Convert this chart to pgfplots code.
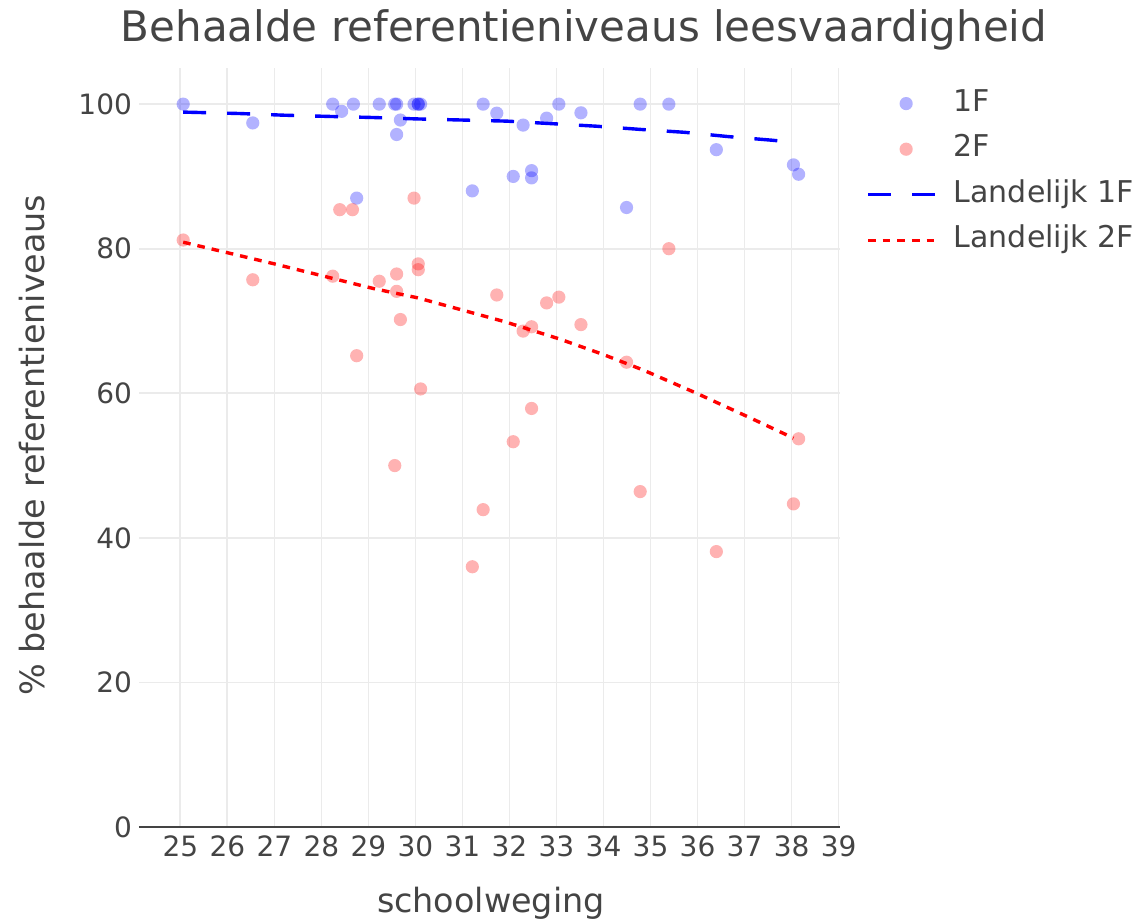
\documentclass[border=0pt]{standalone}
\usepackage{pgfplots}
\pgfplotsset{compat=1.18}
\usepackage{fontspec}
\setmainfont{DejaVu Sans}
\definecolor{txt}{HTML}{444444}
\definecolor{gridc}{HTML}{EBEBEB}
\pgfplotsset{
  marklegend/.style={legend image code/.code={\draw[mark repeat=2, mark phase=2, ##1] plot coordinates {(0pt,0pt) (19pt,0pt) (34pt,0pt)};}},
  linelegend/.style={legend image code/.code={\draw[##1] (0pt,0pt) -- (34pt,0pt);}},
}
\begin{document}
\begin{tikzpicture}
\path[use as bounding box] (-69.5pt,-47pt) rectangle (504.5pt,413.5pt);
\begin{axis}[
  at={(0,0)}, anchor=south west,
  scale only axis, width=350.5pt, height=379.5pt,
  xmin=24.12, xmax=39.03, ymin=0, ymax=105,
  axis line style={draw=none},
  major tick length=0pt,
  xtick={25,...,39}, ytick={20,40,...,100},
  extra y ticks={0},
  extra y tick style={major grid style={draw=txt, line width=1pt}},
  grid=major,
  major grid style={draw=gridc, line width=0.9pt},
  /pgf/number format/assume math mode=true,
  tick label style={font=\fontsize{14}{16}\selectfont, text=txt},
  xticklabel style={anchor=base, yshift=-15pt},
  yticklabel style={anchor=east, xshift=0pt},
  title={Behaalde referentieniveaus leesvaardigheid},
  title style={at={(axis description cs:0.6348,1.0196)}, anchor=base, font=\fontsize{21}{24}\selectfont, text=txt},
  xlabel={schoolweging},
  xlabel style={at={(axis description cs:0.502,-0.1133)}, anchor=base, font=\fontsize{16.7}{19}\selectfont, text=txt},
  ylabel={\% behaalde referentieniveaus},
  ylabel style={at={(axis description cs:-0.1341,0.503)}, anchor=base, font=\fontsize{16.7}{19}\selectfont, text=txt},
  legend style={at={(axis description cs:1.0286,0.978)}, anchor=north west, draw=none, fill=none,
    font=\fontsize{15}{18}\selectfont, text=txt,
    nodes={inner ysep=0pt, inner xsep=8pt, text height=11pt, text depth=3.5pt},
    row sep=8.3pt},
  legend cell align=left,
]
\addplot[only marks, mark=*, mark size=3.3pt, mark options={fill=blue, draw opacity=0, fill opacity=0.3}, marklegend]
coordinates {
(25.06,100) (26.54,97.4) (28.24,100) (28.43,99.0) (28.68,100) (28.75,87.0)
(29.23,100) (29.56,100) (29.6,100) (29.6,95.8) (29.68,97.8) (29.97,100)
(30.06,100) (30.06,100) (30.11,100) (31.21,88.0) (31.44,100) (31.73,98.75)
(32.08,90.0) (32.29,97.1) (32.47,90.8) (32.47,89.8) (32.79,98.06) (33.05,100)
(33.52,98.8) (34.49,85.7) (34.78,100) (35.39,100) (36.4,93.7) (38.04,91.6) (38.15,90.3)
};
\addlegendentry{1F}
\addplot[only marks, mark=*, mark size=3.3pt, mark options={fill=red, draw opacity=0, fill opacity=0.3}, marklegend]
coordinates {
(25.06,81.2) (26.54,75.7) (28.24,76.2) (28.39,85.4) (28.66,85.4) (28.75,65.2)
(29.23,75.5) (29.56,50.0) (29.6,76.5) (29.6,74.1) (29.68,70.2) (29.97,87.0)
(30.06,77.9) (30.06,77.1) (30.11,60.6) (31.21,36.0) (31.44,43.9) (31.73,73.6)
(32.08,53.3) (32.29,68.6) (32.47,69.2) (32.47,57.9) (32.79,72.5) (33.05,73.3)
(33.52,69.5) (34.49,64.3) (34.78,46.4) (35.39,80.0) (36.4,38.1) (38.04,44.7) (38.15,53.7)
};
\addlegendentry{2F}
\addplot[blue, line width=1.7pt, dash pattern=on 11.5pt off 10.5pt, no marks, linelegend]
coordinates {
(25.06,98.9) (26.27,98.7) (27.2,98.47) (28.16,98.3) (29.1,98.15) (30.0,97.96)
(31.0,97.8) (31.94,97.65) (32.9,97.3) (33.84,96.95) (34.79,96.5) (35.73,96.1)
(36.67,95.5) (37.6,95.0) (38.04,94.7)
};
\addlegendentry{Landelijk 1F}
\addplot[red, line width=1.7pt, dash pattern=on 3.8pt off 3.5pt, no marks, linelegend]
coordinates {
(25.06,80.9) (27.0,77.9) (29.1,74.5) (30.05,73.2) (31.9,69.9) (33.07,67.5)
(33.98,65.4) (34.85,63.2) (35.98,60.0) (37.12,56.6) (38.04,53.8)
};
\addlegendentry{Landelijk 2F}
\end{axis}
\end{tikzpicture}
\end{document}
